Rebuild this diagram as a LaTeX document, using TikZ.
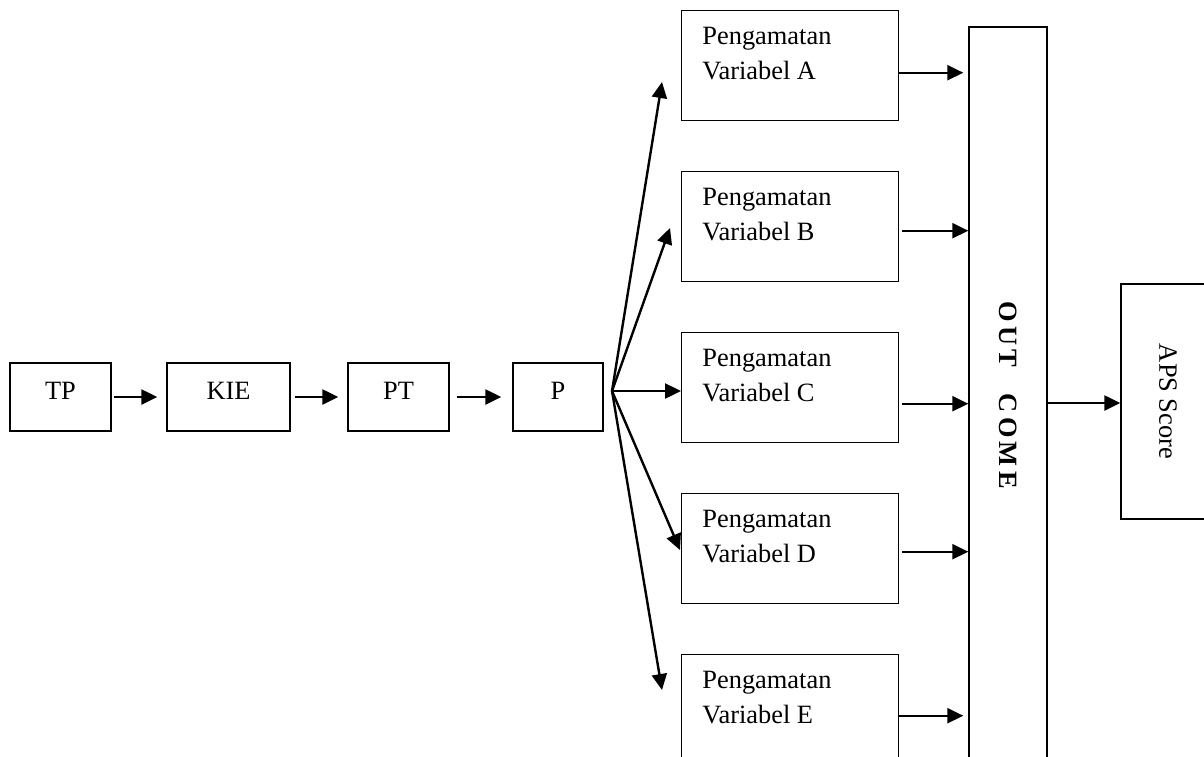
\documentclass[tikz,border=0pt]{standalone}
\usepackage{fontspec}
\setmainfont{Liberation Serif}
\usetikzlibrary{arrows.meta}

\begin{document}
\begin{tikzpicture}[x=0.5pt, y=-0.5pt, font=\fontsize{13.2}{17.5}\selectfont,
    box/.style = {draw, line width=0.7pt, inner sep=0pt},
    chain/.style = {box, text height=18pt, text depth=16pt},
    obs/.style = {box, anchor=north west, minimum width=108.5pt, minimum height=55pt},
    arr/.style = {-{Triangle[length=8pt,width=7.5pt]}, line width=1.2pt}]
    \useasboundingbox (0,0) rectangle (1204,756);
    \clip (0,0) rectangle (1204,756);

    % left chain
    \node[chain, minimum width=50.5pt] (tp) at (60.5,397) {TP};
    \node[chain, minimum width=61.5pt] (kie) at (228.5,397) {KIE};
    \node[chain, minimum width=50.5pt] (pt) at (398.5,397) {PT};
    \node[chain, minimum width=45pt] (p) at (558,397) {P};

    \draw[arr, shorten <=1pt, shorten >=4.5pt] (tp) -- (kie);
    \draw[arr, shorten <=2pt, shorten >=4.5pt] (kie) -- (pt);
    \draw[arr, shorten <=3.5pt, shorten >=5.5pt] (pt) -- (p);

    % observation boxes
    \foreach \n [count=\i from 0] in {A,B,C,D,E} {
        \node[obs] (v\n) at (681,10+161*\i) {};
        \node[anchor=north west, align=left, inner sep=0pt] (t\n) at (702,27+161*\i) {Pengamatan\\Variabel \n};
    }

    \node[box, minimum width=39pt, minimum height=368pt] (out) at (1008,395)
        {\rotatebox{-90}{\bfseries O\,U\,T\quad C\,O\,M\,E}};
    \node[box, minimum width=47pt, minimum height=117.5pt] (aps) at (1168,401.5)
        {\rotatebox{-90}{APS Score}};

    % fan from P
    \coordinate (fan) at (612,391);
    \coordinate (tA) at (662,82);
    \coordinate (tB) at (670,228);
    \coordinate (tD) at (680,550);
    \coordinate (tE) at (662,690);
    \foreach \t in {tA,tB,tD,tE}
        \draw[arr] (fan) -- (\t);
    \draw[arr] (fan) -- (vC.west |- fan);

    % into OUT COME
    \foreach \n/\dy/\a/\b in {A/7/0/2.5, B/4/1.5/0, C/16/1.5/0, D/3/1.5/0, E/6/0/2.5}
        \draw[arr, shorten <=\a pt, shorten >=\b pt] ([yshift=-\dy*0.5pt]v\n.east)
            -- ([yshift=-\dy*0.5pt]v\n.east -| out.west);

    \draw[arr] ([yshift=-4pt]out.east) -- ([yshift=-4pt]out.east -| aps.west);
\end{tikzpicture}
\end{document}
